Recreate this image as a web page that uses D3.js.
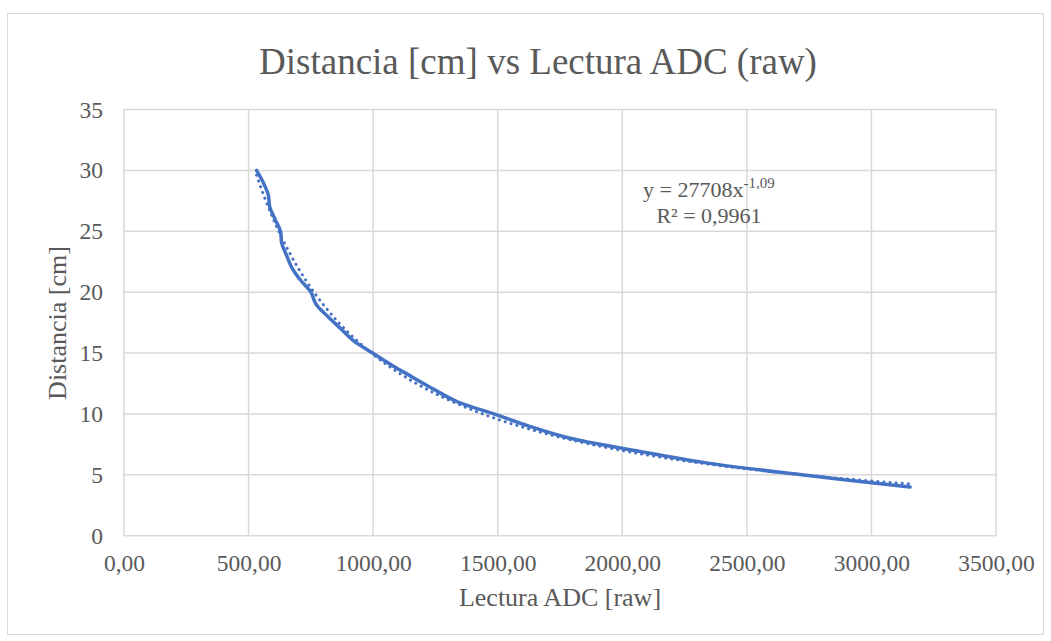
<!DOCTYPE html>
<html>
<head>
<meta charset="utf-8">
<script src="https://cdn.jsdelivr.net/npm/d3@7"></script>
<style>
  body { margin: 0; background: #fff; }
  text { font-family: "Liberation Serif", "Times New Roman", serif; fill: #595959; }
</style>
</head>
<body>
<svg id="chart" width="1051" height="641"></svg>
<script>
// lectura ADC (raw) vs distancia (cm)
const adcValues = [532, 559, 579, 585, 606, 628, 633, 653, 674, 708, 750, 771, 818, 870, 922, 998,
                   1075, 1160, 1245, 1338, 1485, 1625, 1790, 2050, 2330, 2720, 3155];
const distValues = [30, 29, 28, 27, 26, 25, 24, 23, 22, 21, 20, 19, 18, 17, 16, 15,
                    14, 13, 12, 11, 10, 9, 8, 7, 6, 5, 4];
const xTicks = [0, 500, 1000, 1500, 2000, 2500, 3000, 3500];
const yTicks = [0, 5, 10, 15, 20, 25, 30, 35];
// power trendline shown on the chart
const trendA = 27708, trendB = -1.09;

const svg = d3.select("#chart");
const margin = {top: 109.5, right: 55, bottom: 105, left: 124};
const width = 996 - margin.left;
const height = 535.7 - margin.top;

// chart frame
svg.append("rect")
    .attr("x", 7.5).attr("y", 13.5)
    .attr("width", 1036).attr("height", 621)
    .attr("fill", "#fff").attr("stroke", "#d9d9d9").attr("stroke-width", 1);

const x = d3.scaleLinear().domain([0, 3500]).range([0, width]);
const y = d3.scaleLinear().domain([0, 35]).range([height, 0]);
const fmt = d => d3.format(".2f")(d).replace(".", ",");

const g = svg.append("g")
    .attr("transform", "translate(" + margin.left + "," + margin.top + ")");

// gridlines
g.append("g").selectAll("line")
    .data(yTicks)
  .enter().append("line")
    .attr("x1", 0).attr("x2", width)
    .attr("y1", d => y(d)).attr("y2", d => y(d))
    .attr("stroke", "#d9d9d9").attr("stroke-width", 1.5);
g.append("g").selectAll("line")
    .data(xTicks)
  .enter().append("line")
    .attr("x1", d => x(d)).attr("x2", d => x(d))
    .attr("y1", 0).attr("y2", height)
    .attr("stroke", "#d9d9d9").attr("stroke-width", 1.5);

// axes (labels only, Excel style)
const xAxis = g.append("g")
    .attr("transform", "translate(0," + height + ")")
    .call(d3.axisBottom(x).tickValues(xTicks).tickFormat(fmt).tickSize(0).tickPadding(18.5));
const yAxis = g.append("g")
    .call(d3.axisLeft(y).tickValues(yTicks).tickSize(0).tickPadding(21));
[xAxis, yAxis].forEach(a => {
  a.select(".domain").remove();
  a.selectAll("text").style("font-size", "23.5px").style("font-family", "Liberation Serif").attr("fill", "#595959");
});

// trendline (dotted)
const xs = d3.range(d3.min(adcValues), d3.max(adcValues) + 1, 5);
g.append("path")
    .datum(xs)
    .attr("fill", "none")
    .attr("stroke", "#4472c4")
    .attr("stroke-width", 3)
    .attr("stroke-linecap", "round")
    .attr("stroke-dasharray", "0.1 6")
    .attr("d", d3.line().x(d => x(d)).y(d => y(trendA * Math.pow(d, trendB))));

// data line
const data = adcValues.map((d, i) => ({adc: d, dist: distValues[i]}));
g.append("path")
    .datum(data)
    .attr("fill", "none")
    .attr("stroke", "#4472c4")
    .attr("stroke-width", 3.5)
    .attr("stroke-linejoin", "round")
    .attr("stroke-linecap", "round")
    .attr("d", d3.line().curve(d3.curveCatmullRom.alpha(0.5)).x(d => x(d.adc)).y(d => y(d.dist)));

// title
svg.append("text")
    .attr("x", 538).attr("y", 74)
    .attr("text-anchor", "middle")
    .style("font-size", "37px")
    .text("Distancia [cm] vs Lectura ADC (raw)");

// axis titles
svg.append("text")
    .attr("x", 560).attr("y", 606)
    .attr("text-anchor", "middle")
    .style("font-size", "26px")
    .text("Lectura ADC [raw]");
svg.append("text")
    .attr("transform", "translate(66,323) rotate(-90)")
    .attr("text-anchor", "middle")
    .style("font-size", "26px")
    .text("Distancia [cm]");

// trendline equation
const eq = svg.append("text")
    .attr("x", 643).attr("y", 197)
    .style("font-size", "22px");
eq.append("tspan").text("y = " + trendA + "x");
eq.append("tspan").attr("dy", -9).style("font-size", "15px").text(String(trendB).replace(".", ","));
svg.append("text")
    .attr("x", 709).attr("y", 223)
    .attr("text-anchor", "middle")
    .style("font-size", "22px")
    .text("R² = 0,9961");
</script>
</body>
</html>
